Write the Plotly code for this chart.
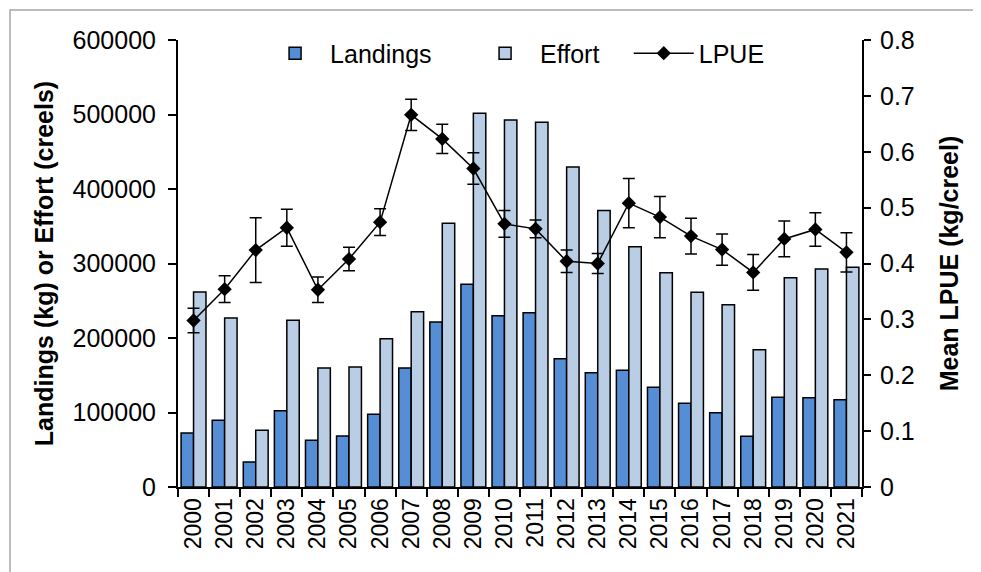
import plotly.graph_objects as go

years = [str(y) for y in range(2000, 2022)]
landings = [72500, 89500, 33600, 102500, 62600, 68500, 97500, 159700, 221500, 272000, 230000,
            234000, 172000, 153400, 156600, 133800, 112300, 99800, 68000, 120400, 119900, 117200]
effort = [261700, 226800, 76100, 223700, 159700, 161100, 199100, 235300, 354000, 501600, 492600,
          489500, 429500, 371000, 322600, 287600, 261300, 244700, 184300, 281000, 292600, 294900]
lpue = [0.298, 0.354, 0.424, 0.464, 0.353, 0.408, 0.474, 0.666, 0.623, 0.570, 0.471,
        0.462, 0.404, 0.400, 0.508, 0.483, 0.449, 0.425, 0.384, 0.444, 0.461, 0.420]
lpue_err = [0.022, 0.024, 0.058, 0.033, 0.023, 0.021, 0.024, 0.028, 0.026, 0.028, 0.024,
            0.016, 0.020, 0.018, 0.044, 0.037, 0.032, 0.028, 0.032, 0.032, 0.030, 0.035]

FONT = "Arial, Liberation Sans, sans-serif"

fig = go.Figure()
fig.add_trace(go.Bar(x=years, y=landings, name="Landings", legend="legend",
                     marker=dict(color="#558ED5", line=dict(color="black", width=1.5))))
fig.add_trace(go.Bar(x=years, y=effort, name="Effort", legend="legend2",
                     marker=dict(color="#B9CDE5", line=dict(color="black", width=1.5))))
fig.add_trace(go.Scatter(x=years, y=lpue, name="LPUE", yaxis="y2", mode="lines+markers",
                         legend="legend3",
                         line=dict(color="black", width=1.5),
                         marker=dict(symbol="diamond", size=11, color="black"),
                         error_y=dict(type="data", array=lpue_err, visible=True,
                                      color="black", thickness=1.5, width=6)))

leg_common = dict(orientation="h", xanchor="left", y=0.97, yanchor="middle",
                  font=dict(size=25), bgcolor="rgba(0,0,0,0)", itemwidth=60)

fig.update_layout(
    width=981, height=572,
    margin=dict(l=170, r=127, t=32, b=93),
    paper_bgcolor="white", plot_bgcolor="white",
    font=dict(family=FONT, size=25, color="black"),
    barmode="group", bargap=0.2, bargroupgap=0.0,
    showlegend=True,
    legend=dict(x=0.12, **leg_common),
    legend2=dict(x=0.427, **leg_common),
    legend3=dict(x=0.659, **leg_common),
    xaxis=dict(type="category", range=[-0.5, len(years) - 0.5],
               tickmode="array", tickvals=years, ticktext=years,
               tickangle=-90, showline=True, linecolor="black", linewidth=2,
               ticks="outside", ticklen=8, tickwidth=1.5, tickcolor="black",
               tickson="boundaries", showgrid=False, zeroline=False,
               tickfont=dict(size=23)),
    yaxis=dict(range=[0, 600000], dtick=100000, tickformat="d", showline=True,
               linecolor="black", linewidth=2, ticks="outside", ticklen=8, tickwidth=1.5,
               tickcolor="black", showgrid=False, zeroline=False, ticklabelstandoff=7,
               title=dict(text="<b>Landings (kg) or Effort (creels)</b>", font=dict(size=25),
                          standoff=12)),
    yaxis2=dict(range=[0, 0.8], dtick=0.1, overlaying="y", side="right", showline=True,
                linecolor="black", linewidth=2, ticks="outside", ticklen=7, tickwidth=1.5,
                tickcolor="black", showgrid=False, zeroline=False, ticklabelstandoff=4,
                title=dict(text="<b>Mean LPUE (kg/creel)</b>", font=dict(size=25),
                           standoff=27)),
)

fig.add_shape(type="rect", xref="paper", yref="paper",
              x0=(10 - 178) / 684, x1=(995 - 178) / 684,
              y0=(487 - 600) / 447, y1=(487 - 10) / 447,
              line=dict(color="#A6A6A6", width=1.5), fillcolor="rgba(0,0,0,0)", layer="below")

fig.write_html("out.html")
